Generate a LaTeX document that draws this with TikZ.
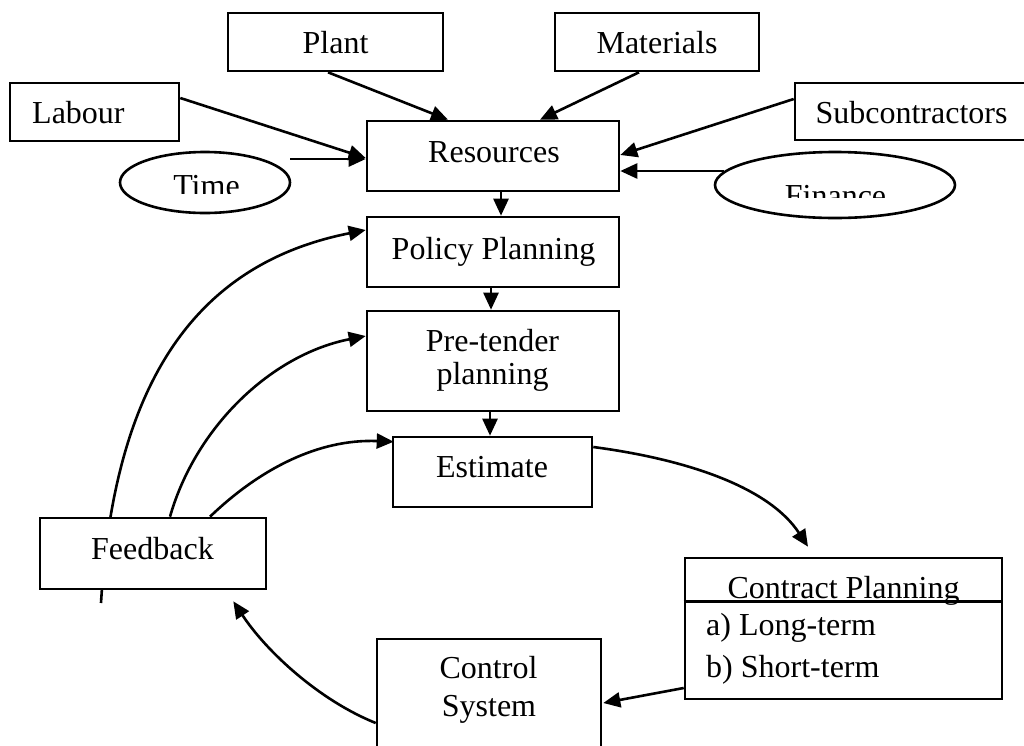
\documentclass[tikz,border=0pt]{standalone}
\usepackage{fontspec}
\setmainfont{Liberation Serif}
\usetikzlibrary{arrows.meta,shapes.geometric}
\tikzset{
  box/.style={draw, line width=2.6pt, rectangle, inner sep=0pt, fill=white},
  ell/.style={draw, line width=2.6pt, ellipse, inner sep=0pt, fill=white},
  txt/.style={inner sep=0pt, anchor=base},
  txtl/.style={inner sep=0pt, anchor=base west},
  arr/.style={line width=2.6pt, -{Triangle[length=17pt,width=15pt]}},
  plainline/.style={line width=2.6pt}
}
\begin{document}
\begin{tikzpicture}[x=1pt,y=-1pt,font=\fontsize{32}{38}\selectfont]
\useasboundingbox (0,0) rectangle (1024,745);
\clip (0,0) rectangle (1024,745);
\fill[white] (0,0) rectangle (1024,745);

% free tail of the long feedback curve (passes under the Feedback box)
\coordinate (fbtail) at (101,603);

% boxes
\node[box, minimum width=215pt, minimum height=58pt] (plant) at (335.5,42) {};
\node[box, minimum width=204pt, minimum height=58pt] (mat) at (657,42) {};
\node[box, minimum width=169pt, minimum height=58pt] (labour) at (94.5,112) {};
\node[box, minimum width=245pt, minimum height=57pt] (sub) at (917.5,111.5) {};
\node[box, minimum width=252pt, minimum height=70pt] (res) at (493,156) {};
\node[ell, minimum width=170pt, minimum height=61pt] (time) at (205,182.5) {};
\node[ell, minimum width=240pt, minimum height=66pt] (fin) at (835,185) {};
\node[box, minimum width=252pt, minimum height=70pt] (pol) at (493,252) {};
\node[box, minimum width=252pt, minimum height=100pt] (pre) at (493,361) {};
\node[box, minimum width=199pt, minimum height=70pt] (est) at (492.5,472) {};
\node[box, minimum width=317pt, minimum height=141pt] (cp) at (843.5,628.5) {};
\node[box, minimum width=224pt, minimum height=121pt] (ctrl) at (489,699.5) {};

% feedback curves (drawn before the Feedback box so it covers them)
\draw[arr] (fbtail) .. controls +(14,-233) and +(-161,32) .. ([yshift=22pt]pol.west);
\node[box, minimum width=226pt, minimum height=71pt] (fb) at (153,553.5) {};
\draw[arr] ([xshift=17pt]fb.north) .. controls +(25,-88) and +(-96,19) .. ([yshift=25pt]pre.west);
\draw[arr] ([xshift=57pt]fb.north) .. controls +(50,-48) and +(-75,-3) .. ([xshift=2pt,yshift=-6pt]est.north west);

% inputs to resources
\draw[arr] ([yshift=14pt]labour.east) -- ([yshift=-2pt]res.west);
\draw[arr] ([xshift=85pt,yshift=23.5pt]time.center) -- ([yshift=-3pt]res.west);
\draw[arr] ([xshift=-7.5pt]plant.south) -- ([xshift=-45pt]res.north);
\draw[arr] ([xshift=-18pt]mat.south) -- ([xshift=47pt]res.north);
\draw[arr] ([yshift=12.5pt]sub.west) -- ([yshift=1pt]res.east);
\draw[arr] ([xshift=10pt,yshift=14pt]fin.west) -- ([yshift=-15pt]res.east);

% main chain
\draw[arr] ([xshift=8pt]res.south) -- ([xshift=8pt]pol.north);
\draw[arr] ([xshift=-2pt]pol.south) -- ([xshift=-2pt]pre.north);
\draw[arr] ([xshift=-3pt]pre.south) -- ([xshift=-2.5pt]est.north);
\draw[arr] ([yshift=25pt]est.east) .. controls +(98,13) and +(-38,-58) .. ([xshift=-35.5pt,yshift=10pt]cp.north);
\draw[arr] ([yshift=-59.5pt]cp.west) -- ([xshift=1pt,yshift=-3.5pt]ctrl.east);
\draw[arr] ([yshift=-23.5pt]ctrl.west) .. controls +(-57,-23) and +(33,50) .. ([xshift=-34pt,yshift=-11pt]fb.south east);

% contract planning divider
\draw[plainline] ([yshift=-45pt]cp.north west) -- ([yshift=-45pt]cp.north east);

% texts
\node[txt] (tplant) at (335.5,53) {Plant};
\node[txt] (tmat) at (657,53) {Materials};
\node[txtl] (tlab) at (32,123) {Labour};
\node[txt] (tsub) at (911.5,123) {Subcontractors};
\node[txt] (tres) at (494,162) {Resources};
\begin{scope}
  \clip (100,150) rectangle (300,193);
  \node[txt] (ttime) at (206.5,196) {Time};
\end{scope}
\begin{scope}
  \clip (720,150) rectangle (950,197);
  \node[txt] (tfin) at (835.5,206) {Finance};
\end{scope}
\node[txt] (tpol) at (493.5,259) {Policy Planning};
\node[txt] (tpre1) at (492.5,351) {Pre-tender};
\node[txt] (tpre2) at (492.5,384) {planning};
\node[txt] (test) at (492,477) {Estimate};
\node[txt] (tfb) at (152.5,559) {Feedback};
\node[txt] (tcp) at (843.5,598) {Contract Planning};
\node[txtl] (tcpa) at (706,635) {a) Long-term};
\node[txtl] (tcpb) at (706,677) {b) Short-term};
\node[txt] (tctrl1) at (488.5,678) {Control};
\node[txt] (tctrl2) at (489,716) {System};
\end{tikzpicture}
\end{document}
